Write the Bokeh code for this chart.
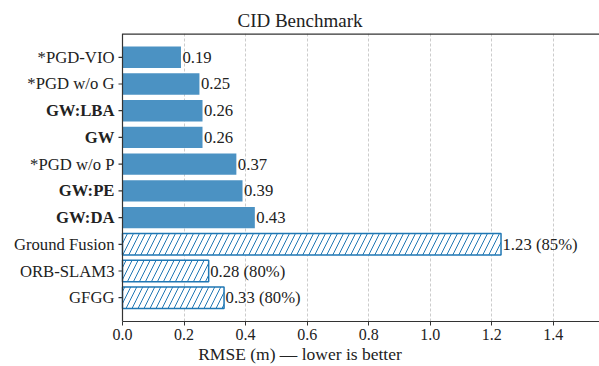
from bokeh.plotting import figure
from bokeh.models import (ColumnDataSource, FixedTicker, NumeralTickFormatter,
                          Range1d, Span)
from bokeh.core.properties import value
from bokeh.embed import file_html
from bokeh.resources import INLINE

# Methods, top to bottom
methods = ["*PGD-VIO", "*PGD w/o G", "GW:LBA", "GW", "*PGD w/o P",
           "GW:PE", "GW:DA", "Ground Fusion", "ORB-SLAM3", "GFGG"]
rmse = [0.19, 0.25, 0.26, 0.26, 0.37, 0.39, 0.43, 1.23, 0.28, 0.33]
# Success rate (%) for baselines that did not finish every sequence
success = [None, None, None, None, None, None, None, 85, 80, 80]
bold = [False, False, True, True, False, True, True, False, False, False]
x_ticks = [0.0, 0.2, 0.4, 0.6, 0.8, 1.0, 1.2, 1.4]
x_max = 1.55

FONT = "Liberation Serif"
BLUE = "#1f77b4"
SOLID = "#4b92c3"
SPINE = "#333333"
INK = "#222222"

W, H = 599, 366
LEFT_PAD = 122          # room for the method names, in pixels
px_per_unit = (W - LEFT_PAD) / x_max
x_start = -LEFT_PAD / px_per_unit   # frame starts left of zero so names fit inside it

pos = list(range(len(methods)))
y_top, y_bottom = -0.89, len(methods) - 1 + 0.89
value_text = [f"{v:.2f}" if s is None else f"{v:.2f} ({s}%)"
              for v, s in zip(rmse, success)]
ours = [s is None for s in success]

own = ColumnDataSource(dict(
    y=[p for p, o in zip(pos, ours) if o],
    right=[r for r, o in zip(rmse, ours) if o],
))
base = ColumnDataSource(dict(
    y=[p for p, o in zip(pos, ours) if not o],
    right=[r for r, o in zip(rmse, ours) if not o],
))
vals = ColumnDataSource(dict(x=rmse, y=pos, text=value_text))
names_plain = ColumnDataSource(dict(
    y=[p for p, b in zip(pos, bold) if not b],
    text=[m for m, b in zip(methods, bold) if not b],
))
names_bold = ColumnDataSource(dict(
    y=[p for p, b in zip(pos, bold) if b],
    text=[m for m, b in zip(methods, bold) if b],
))

p = figure(width=W, height=H, output_backend="svg", toolbar_location=None,
           x_range=Range1d(x_start, x_max), y_range=Range1d(y_bottom, y_top),
           min_border_left=0, min_border_right=0, min_border_top=33,
           min_border_bottom=41)
p.outline_line_color = None
p.yaxis.visible = False

# top spine, from zero to the right edge
p.segment(x0=[0], x1=[x_max], y0=[y_top], y1=[y_top],
          line_color=SPINE, line_width=2.4)

# y tick marks (the inner half is hidden under the bars)
p.scatter(x=[0] * len(pos), y=pos, marker="dash", size=8,
          line_color=SPINE, line_width=1.2)

p.hbar(y="y", right="right", left=0, height=0.8, source=own,
       fill_color=SOLID, line_color=None)
p.hbar(y="y", right="right", left=0, height=0.8, source=base,
       fill_color="white", line_color=BLUE, line_width=1.5,
       hatch_pattern="/", hatch_color=BLUE, hatch_scale=12, hatch_weight=1)

p.text(x="x", y="y", text="text", source=vals, x_offset=1.5,
       text_align="left", text_baseline="middle",
       text_font=value(FONT), text_font_size="16.7px", text_color=INK)

for src, style in ((names_plain, "normal"), (names_bold, "bold")):
    p.text(x=0, y="y", text="text", source=src, x_offset=-8,
           text_align="right", text_baseline="middle",
           text_font=value(FONT), text_font_size="16.7px",
           text_font_style=style, text_color=INK)

# left spine
p.add_layout(Span(location=0, dimension="height",
                  line_color=SPINE, line_width=1.2))

p.title.text = "CID Benchmark"
p.title.align = "center"
p.title.offset = LEFT_PAD / 2
p.title.text_font = FONT
p.title.text_font_size = "19px"
p.title.text_font_style = "normal"
p.title.text_color = INK
p.title.standoff = 6

xa = p.xaxis[0]
xa.bounds = (0, x_max)
xa.ticker = FixedTicker(ticks=x_ticks)
xa.formatter = NumeralTickFormatter(format="0.0")
xa.axis_label = "RMSE (m) — lower is better"
xa.axis_label_text_font = FONT
xa.axis_label_text_font_size = "17.5px"
xa.axis_label_text_font_style = "normal"
xa.axis_label_text_color = INK
xa.axis_label_standoff = 1
xa.major_label_text_font = FONT
xa.major_label_text_font_size = "16px"
xa.major_label_text_color = INK
xa.major_label_standoff = 3
xa.axis_line_color = SPINE
xa.axis_line_width = 1.2
xa.major_tick_line_color = SPINE
xa.major_tick_out = 4
xa.major_tick_in = 0
xa.minor_tick_line_color = None

p.ygrid.grid_line_color = None
p.xgrid.grid_line_color = "#cccccc"
p.xgrid.grid_line_dash = "3 2"
p.xgrid.grid_line_width = 1

open("out.html", "w").write(file_html(p, INLINE))
